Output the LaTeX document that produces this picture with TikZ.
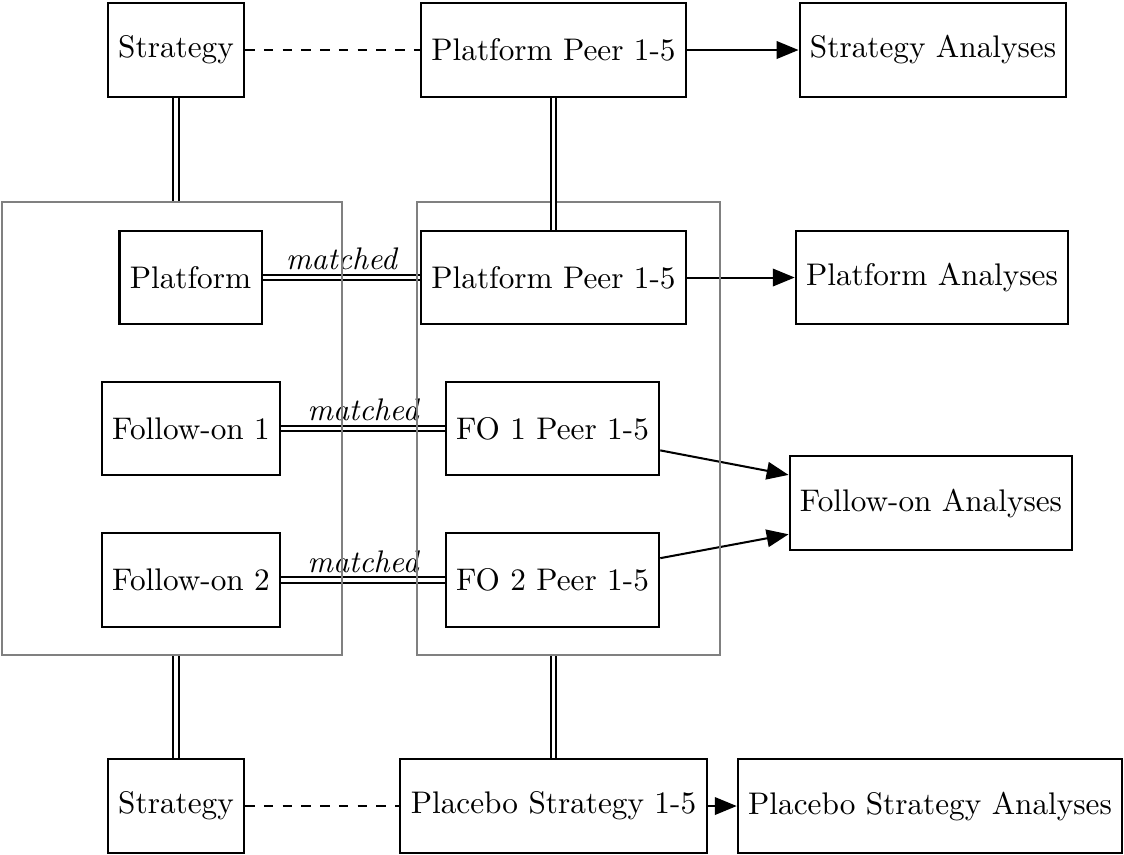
\documentclass[tikz,border=0pt]{standalone}
\usetikzlibrary{arrows.meta,calc}
\tikzset{
  box/.style={draw, line width=0.65pt, minimum height=29.8pt, inner xsep=3.33pt},
  group/.style={draw=gray, line width=0.65pt, inner sep=0pt},
  link/.style={line width=0.65pt, double, double distance=1.1pt},
  peerlink/.style={dashed, line width=0.65pt},
  feed/.style={line width=0.65pt, -{Triangle[length=7pt,width=5.6pt]}},
  tag/.style={font=\itshape, inner sep=2pt}
}
\begin{document}
\begin{tikzpicture}[x=0.32pt,y=-0.32pt]
\useasboundingbox (0,0) rectangle (1124,854);

% top row
\node[box] (strat1) at (176,50) {Strategy};
\node[box] (ppeer1) at (553.5,50) {Platform Peer 1-5};
\node[box] (stratA) at (933,50) {Strategy Analyses};

% platform row
\node[box] (plat) at (190.5,277.5) {Platform};
\node[box] (ppeer2) at (553.5,277.5) {Platform Peer 1-5};
\node[box] (platA) at (932,277.5) {Platform Analyses};

% follow-on rows
\node[box] (fo1) at (191,428.5) {Follow-on 1};
\node[box] (fo1p) at (552.5,428.5) {FO 1 Peer 1-5};
\node[box] (fo2) at (191,580) {Follow-on 2};
\node[box] (fo2p) at (552.5,580) {FO 2 Peer 1-5};
\node[box] (foA) at (931,503) {Follow-on Analyses};

% bottom row
\node[box] (strat2) at (176,806) {Strategy};
\node[box] (plac) at (553.5,806) {Placebo Strategy 1-5};
\node[box] (placA) at (930,806) {Placebo Strategy Analyses};

% group frame centres
\coordinate (gl) at (172,428.5);
\coordinate (gr) at (568.5,428.5);

% dashed peer links
\draw[peerlink] (strat1) -- (ppeer1);
\draw[peerlink] (strat2) -- (plac);

% matched links
\draw[link] (plat) -- node[tag, above] {matched} (ppeer2);
\draw[link] (fo1) -- node[tag, above] {matched} (fo1p);
\draw[link] (fo2) -- node[tag, above] {matched} (fo2p);

% analyses arrows
\draw[feed] (ppeer1) -- (stratA);
\draw[feed] (ppeer2) -- (platA);
\draw[feed] ([yshift=-7pt]fo1p.east) -- ([yshift=9pt]foA.west);
\draw[feed] ([yshift=7pt]fo2p.east) -- ([yshift=-10pt]foA.west);
\draw[feed] (plac) -- (placA);

% group frames
\node[group, minimum width=108.8pt, minimum height=145pt] (lgroup) at (gl) {};
\node[group, minimum width=97pt, minimum height=145pt] (rgroup) at (gr) {};

% vertical links
\draw[link] (strat1.south) -- (strat1.south |- lgroup.north);
\draw[link] (ppeer1) -- (ppeer2);
\draw[link] (strat2.north |- lgroup.south) -- (strat2.north);
\draw[link] (plac.north |- rgroup.south) -- (plac.north);
\end{tikzpicture}
\end{document}
